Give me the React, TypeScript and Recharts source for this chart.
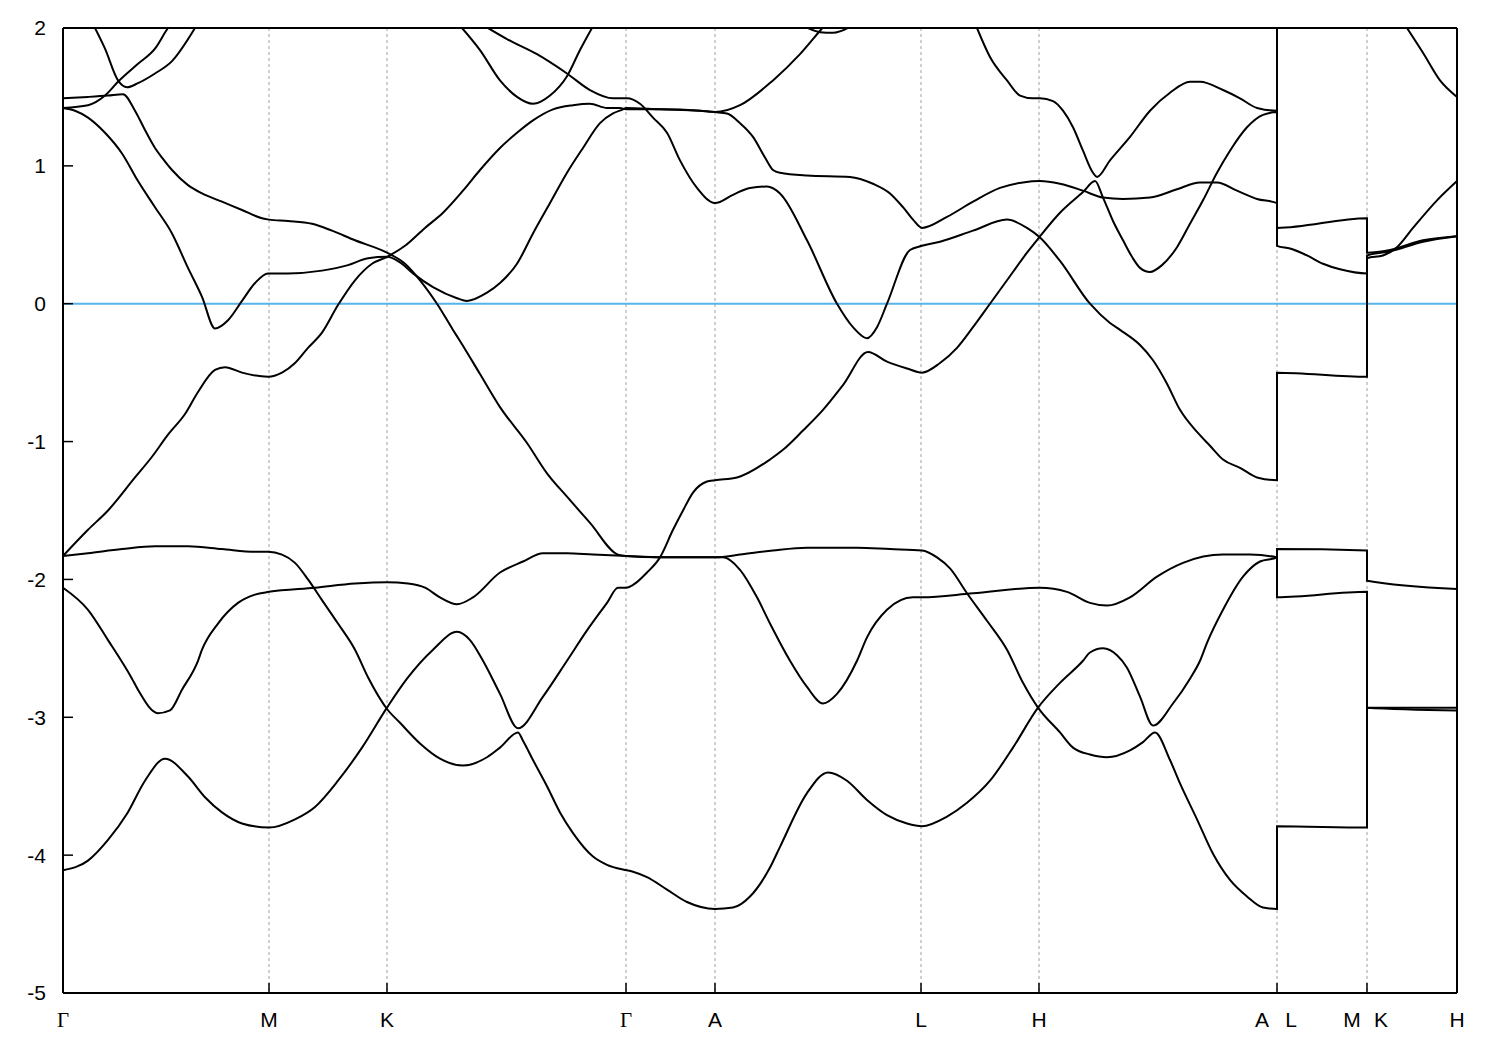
import React from "react";
import { LineChart, Line, XAxis, YAxis, CartesianGrid, ReferenceLine } from "recharts";

// k-path positions (arbitrary path units) of the high-symmetry points
const kTicks = [0, 206, 324, 563, 652, 858, 976, 1214, 1304, 1394];
const kLabels = ["Γ", "M", "K", "Γ", "A", "L", "H", "A|L", "M|K", "H"];
const eTicks = [-5, -4, -3, -2, -1, 0, 1, 2];

// bands as [k, E] pairs; a repeated k is a jump at a path break (A|L, M|K)
const band1 = [
  [0, -4.11], [25, -4.04], [45, -3.89], [64, -3.7], [82, -3.46], [102, -3.3], [125, -3.43], [142, -3.58],
  [159, -3.69], [179, -3.77], [206, -3.8], [232, -3.74], [252, -3.65], [275, -3.46], [299, -3.22], [324, -2.93],
  [344, -2.72], [370, -2.51], [394, -2.38], [407, -2.44], [420, -2.59], [437, -2.83], [455, -3.08], [480, -2.85],
  [504, -2.59], [524, -2.37], [544, -2.17], [555, -2.06], [563, -2.06], [570, -2.04], [584, -1.95], [597, -1.84],
  [610, -1.64], [620, -1.5], [630, -1.37], [644, -1.29], [652, -1.28], [674, -1.26], [707, -1.13], [720, -1.06],
  [740, -0.92], [760, -0.77], [780, -0.59], [805, -0.35], [824, -0.42], [844, -0.47], [859, -0.5], [877, -0.43],
  [894, -0.32], [910, -0.17], [927, 0.0], [944, 0.17], [964, 0.37], [976, 0.48], [997, 0.66], [1020, 0.81],
  [1032, 0.89], [1040, 0.77], [1050, 0.6], [1060, 0.46], [1069, 0.34], [1077, 0.26], [1087, 0.23], [1099, 0.28],
  [1114, 0.41], [1127, 0.58], [1140, 0.75], [1154, 0.95], [1167, 1.11], [1184, 1.28], [1200, 1.37], [1214, 1.39],
  [1214, 0.55], [1304, 0.62], [1304, 0.37], [1327, 0.39], [1360, 0.46], [1394, 0.49],
];

const band2 = [
  [0, -2.06], [25, -2.22], [45, -2.44], [69, -2.72], [75, -2.8], [95, -2.97], [107, -2.95], [119, -2.8],
  [135, -2.59], [139, -2.51], [155, -2.32], [175, -2.17], [192, -2.11], [206, -2.09], [252, -2.06], [292, -2.03],
  [324, -2.02], [345, -2.03], [362, -2.06], [377, -2.13], [394, -2.18], [410, -2.13], [437, -1.95], [460, -1.87],
  [480, -1.81], [504, -1.81], [530, -1.82], [563, -1.83], [597, -1.84], [637, -1.84], [652, -1.84], [660, -1.84],
  [677, -1.93], [694, -2.13], [707, -2.32], [727, -2.59], [744, -2.78], [760, -2.9], [774, -2.83], [794, -2.59],
  [804, -2.42], [824, -2.22], [850, -2.13], [859, -2.13], [910, -2.1], [977, -2.06], [1004, -2.09], [1027, -2.17],
  [1044, -2.19], [1067, -2.13], [1094, -1.98], [1120, -1.88], [1160, -1.82], [1187, -1.82], [1214, -1.84],
  [1214, -2.13], [1304, -2.09], [1304, -2.93], [1394, -2.95],
];

const band3 = [
  [0, -1.83], [25, -1.81], [59, -1.78], [92, -1.76], [125, -1.76], [159, -1.78], [192, -1.8], [205, -1.8],
  [219, -1.82], [232, -1.88], [245, -2.0], [259, -2.15], [275, -2.32], [292, -2.51], [305, -2.71], [324, -2.94],
  [337, -3.04], [357, -3.19], [377, -3.3], [400, -3.35], [424, -3.29], [437, -3.22], [455, -3.11], [460, -3.17],
  [470, -3.31], [484, -3.5], [497, -3.69], [510, -3.84], [530, -4.01], [544, -4.07], [564, -4.11], [570, -4.12],
  [584, -4.16], [604, -4.25], [624, -4.34], [652, -4.39], [670, -4.38], [687, -4.3], [707, -4.09], [717, -3.94],
  [744, -3.55], [765, -3.4], [784, -3.46], [804, -3.6], [824, -3.71], [844, -3.77], [859, -3.79], [884, -3.72],
  [904, -3.62], [927, -3.46], [950, -3.22], [975, -2.93], [997, -2.75], [1020, -2.59], [1027, -2.53], [1040, -2.5],
  [1054, -2.55], [1064, -2.64], [1077, -2.85], [1090, -3.06], [1110, -2.9], [1127, -2.72], [1137, -2.59],
  [1144, -2.46], [1160, -2.22], [1180, -1.98], [1197, -1.87], [1214, -1.84],
  [1214, -1.78], [1304, -1.79], [1304, -2.01], [1394, -2.07],
];

const band4 = [
  [0, 1.49], [25, 1.5], [45, 1.51], [60, 1.52], [72, 1.4], [82, 1.26], [92, 1.13], [99, 1.06], [109, 0.97],
  [125, 0.86], [139, 0.8], [159, 0.74], [179, 0.68], [199, 0.62], [206, 0.61], [225, 0.6], [249, 0.58],
  [269, 0.53], [292, 0.46], [324, 0.37], [342, 0.29], [357, 0.17], [374, 0.0], [390, -0.19], [397, -0.27],
  [417, -0.51], [437, -0.75], [464, -1.01], [484, -1.23], [504, -1.4], [527, -1.59], [555, -1.82], [563, -1.83],
  [597, -1.84], [637, -1.84], [652, -1.84], [677, -1.82], [710, -1.79], [744, -1.77], [794, -1.77], [827, -1.78],
  [859, -1.79], [874, -1.84], [887, -1.92], [904, -2.1], [924, -2.3], [944, -2.51], [960, -2.75], [975, -2.93],
  [997, -3.11], [1010, -3.22], [1027, -3.27], [1044, -3.29], [1067, -3.24], [1080, -3.18], [1092, -3.11],
  [1107, -3.31], [1117, -3.48], [1134, -3.74], [1150, -3.99], [1167, -4.18], [1184, -4.3], [1200, -4.38],
  [1214, -4.39],
  [1214, -3.79], [1304, -3.8], [1304, -2.93], [1394, -2.93],
];

const band5 = [
  [0, -1.83], [25, -1.64], [45, -1.5], [72, -1.26], [89, -1.11], [105, -0.95], [122, -0.8], [135, -0.64],
  [152, -0.48], [162, -0.46], [179, -0.5], [205, -0.53], [219, -0.5], [232, -0.43], [245, -0.32], [259, -0.21],
  [275, -0.01], [292, 0.17], [309, 0.29], [324, 0.34], [342, 0.42], [362, 0.55], [380, 0.66], [400, 0.82],
  [417, 0.97], [437, 1.13], [454, 1.24], [470, 1.33], [490, 1.41], [510, 1.44], [527, 1.45], [544, 1.42],
  [557, 1.42], [563, 1.41], [597, 1.41], [637, 1.4], [652, 1.39], [664, 1.38], [677, 1.31], [690, 1.21],
  [702, 1.06], [710, 0.97], [717, 0.95], [744, 0.93], [787, 0.92], [810, 0.87], [827, 0.8], [840, 0.7],
  [850, 0.61], [859, 0.55], [884, 0.63], [910, 0.74], [937, 0.84], [960, 0.88], [977, 0.89], [997, 0.87],
  [1020, 0.82], [1040, 0.77], [1060, 0.76], [1087, 0.77], [1114, 0.83], [1137, 0.88], [1154, 0.88],
  [1174, 0.82], [1194, 0.76], [1214, 0.73],
  [1214, 0.42], [1227, 0.4], [1244, 0.35], [1260, 0.29], [1277, 0.25], [1304, 0.22],
  [1304, 0.33], [1320, 0.35], [1334, 0.41], [1350, 0.55], [1374, 0.75], [1394, 0.89],
];

const band6 = [
  [425, 2.0], [444, 1.92], [474, 1.81], [504, 1.67], [527, 1.55], [550, 1.49], [564, 1.49], [577, 1.45],
  [590, 1.35], [604, 1.24], [617, 1.04], [634, 0.84], [652, 0.73], [670, 0.79], [687, 0.84], [704, 0.85],
  [717, 0.8], [744, 0.46], [774, 0.0], [790, -0.17], [804, -0.25], [814, -0.17], [824, 0.0], [847, 0.39],
  [859, 0.42], [877, 0.45], [910, 0.53], [944, 0.61], [964, 0.55], [977, 0.48], [997, 0.31], [1027, 0.0],
  [1047, -0.14], [1057, -0.19], [1077, -0.3], [1090, -0.41], [1104, -0.58], [1117, -0.77], [1134, -0.93],
  [1147, -1.03], [1160, -1.13], [1177, -1.19], [1194, -1.26], [1214, -1.28],
  [1214, -0.5], [1304, -0.53], [1304, 0.35], [1327, 0.38], [1360, 0.45], [1394, 0.49],
];

const band7 = [
  [0, 1.42], [12, 1.4], [25, 1.35], [42, 1.24], [59, 1.09], [75, 0.89], [92, 0.7], [109, 0.51], [125, 0.26],
  [139, 0.05], [152, -0.18], [165, -0.12], [179, 0.02], [192, 0.15], [205, 0.22], [225, 0.22], [259, 0.24],
  [285, 0.28], [305, 0.33], [324, 0.34], [337, 0.3], [350, 0.22], [370, 0.12], [394, 0.04], [404, 0.02],
  [424, 0.08], [437, 0.15], [454, 0.29], [470, 0.51], [487, 0.73], [504, 0.95], [520, 1.13], [537, 1.31],
  [550, 1.38], [560, 1.41], [563, 1.42], [597, 1.41], [637, 1.4], [652, 1.39], [677, 1.44], [710, 1.62],
  [737, 1.81], [757, 1.98], [777, 2.15],
];

const band8 = [[0, 1.42], [25, 1.44], [42, 1.51], [55, 1.61], [75, 1.74], [92, 1.85], [105, 2.0], [120, 2.12]];

const band9 = [
  [914, 2.0], [927, 1.79], [944, 1.62], [957, 1.51], [970, 1.49], [977, 1.49], [990, 1.47], [1000, 1.4],
  [1010, 1.28], [1020, 1.11], [1030, 0.95], [1034, 0.92], [1047, 1.04], [1067, 1.21], [1087, 1.4],
  [1107, 1.53], [1127, 1.61], [1137, 1.61], [1160, 1.55], [1177, 1.49], [1194, 1.42], [1214, 1.4],
  [1214, 2.3],
];

const topGM = [[32, 2.0], [42, 1.85], [55, 1.62], [64, 1.57], [75, 1.6], [92, 1.67], [109, 1.76], [132, 2.0]];
const topKG = [[399, 2.0], [417, 1.84], [437, 1.62], [454, 1.5], [470, 1.45], [487, 1.51], [504, 1.65], [517, 1.84], [529, 2.0]];
const topAL = [[737, 2.03], [757, 1.97], [770, 1.965], [790, 2.02]];
const topKH = [[1344, 2.0], [1360, 1.82], [1377, 1.62], [1394, 1.5]];

const bands = [band1, band2, band3, band4, band5, band6, band7, band8, band9, topGM, topKG, topAL, topKH];

const SANS = "'Liberation Sans', Arial, sans-serif";
const SERIF = "'Liberation Serif', 'Times New Roman', serif";

function KTick(props: any) {
  const { x, y, payload } = props;
  const label = kLabels[kTicks.indexOf(payload.value)] ?? "";
  const parts = label.split("|");
  const txt = (s: string, dx: number, key: number) => (
    <text key={key} x={x + dx} y={y} dy="0.71em" textAnchor="middle" fontSize={21} fill="#000"
      fontFamily={s === "Γ" ? SERIF : SANS}>
      {s}
    </text>
  );
  if (parts.length === 2) return <g>{txt(parts[0], -15, 0)}{txt(parts[1], 14, 1)}</g>;
  return txt(label, 0, 0);
}

export default function App() {
  const axisLine = { stroke: "#000", strokeWidth: 2 };
  const tickLine = { stroke: "#000", strokeWidth: 1.5 };
  return (
    <LineChart width={1480} height={1035} margin={{ top: 19, right: 30, bottom: 0, left: 0 }}>
      <CartesianGrid horizontal={false} stroke="#a0a0a0" strokeDasharray="3 3" />
      <XAxis type="number" dataKey="k" domain={[0, 1394]} ticks={kTicks} interval={0} height={50}
        tickSize={-10} tickMargin={29} axisLine={axisLine} tickLine={tickLine} tick={KTick} />
      <XAxis xAxisId="top" orientation="top" type="number" dataKey="k" domain={[0, 1394]} ticks={kTicks}
        interval={0} height={1} tickSize={-10} axisLine={axisLine} tickLine={tickLine} tick={false} />
      <YAxis type="number" domain={[-5, 2]} ticks={eTicks} interval={0} allowDataOverflow width={55}
        tickSize={-10} tickMargin={27} axisLine={axisLine} tickLine={tickLine}
        tick={{ fill: "#000", fontSize: 21, fontFamily: SANS }} />
      <YAxis yAxisId="right" orientation="right" type="number" domain={[-5, 2]} ticks={eTicks} interval={0}
        allowDataOverflow width={1} tickSize={-10} axisLine={axisLine} tickLine={tickLine} tick={false} />
      <ReferenceLine y={0} stroke="#56b4e9" strokeWidth={2} />
      {bands.map((b, i) => (
        <Line key={i} data={b.map(([k, E]) => ({ k, E }))} dataKey="E" type="monotone" stroke="#000"
          strokeWidth={2} dot={false} activeDot={false} isAnimationActive={false} />
      ))}
    </LineChart>
  );
}
